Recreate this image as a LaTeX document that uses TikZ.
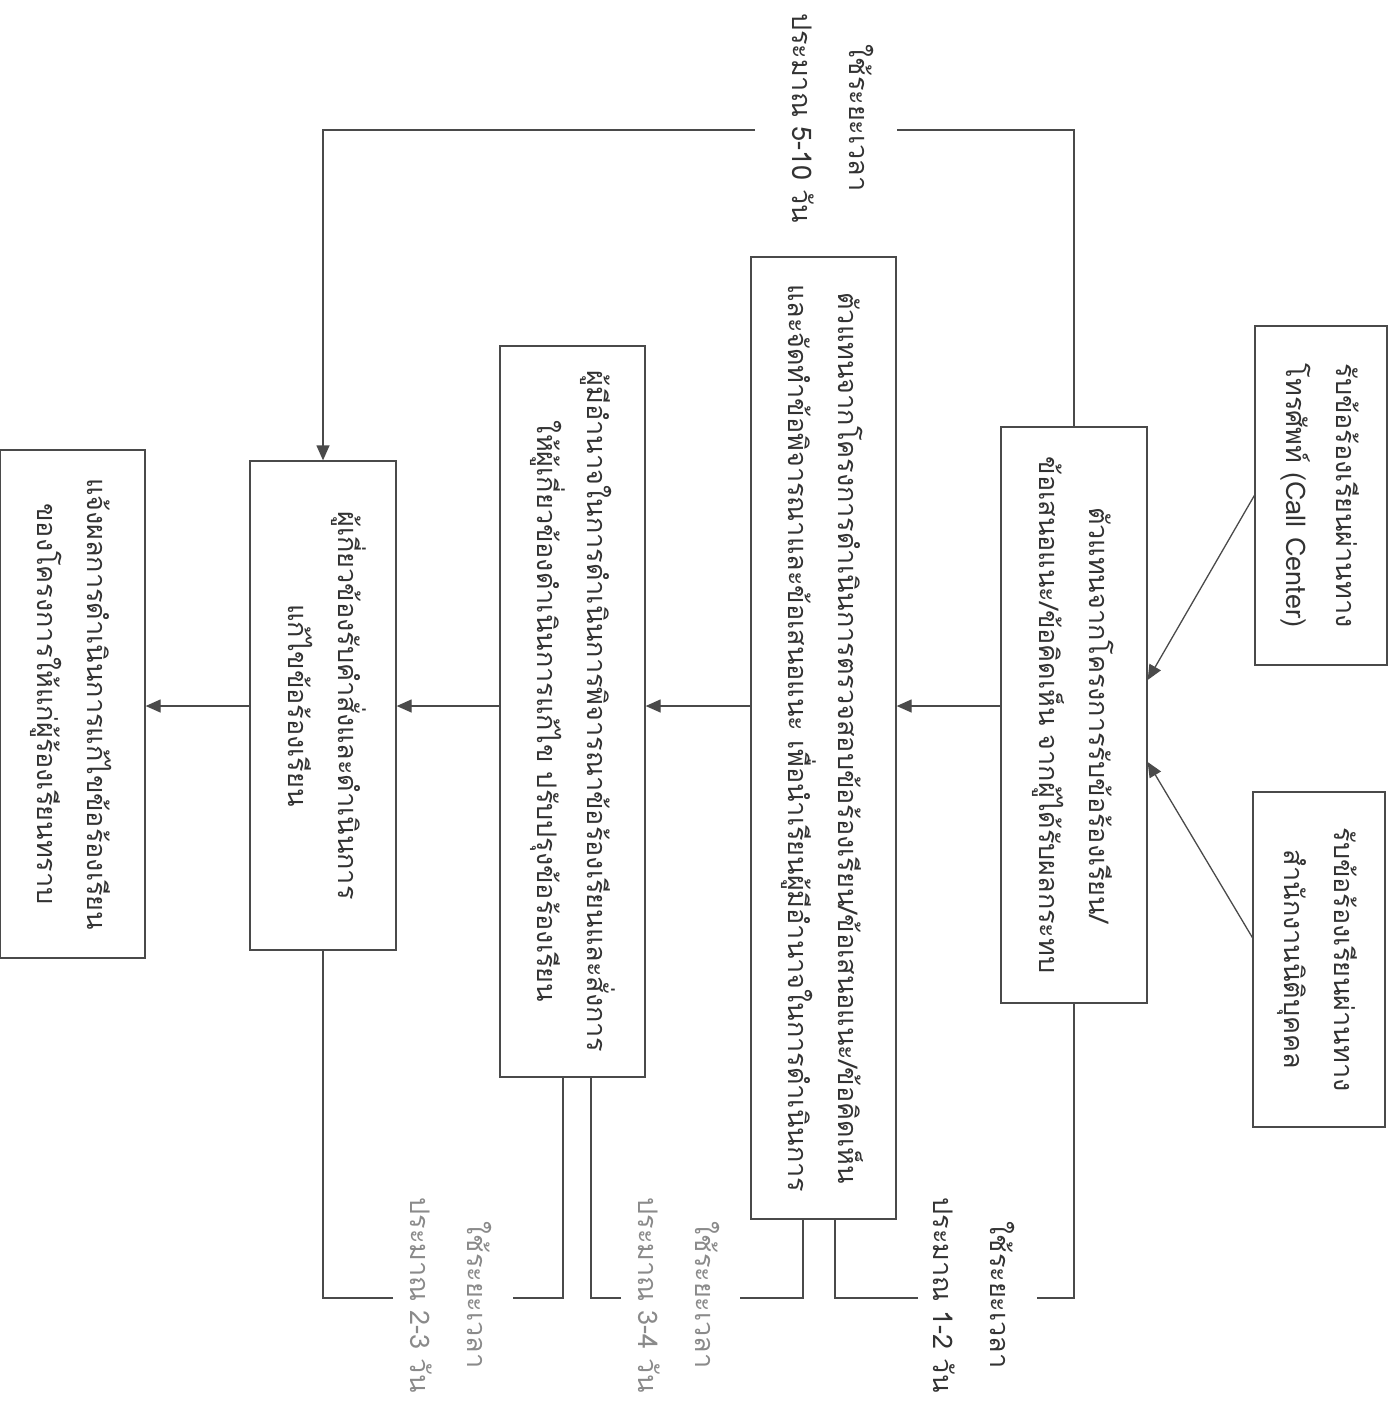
\documentclass[tikz,border=0pt]{standalone}
\usepackage{fontspec}
\newfontfamily\thaifont[Script=Thai]{Loma}
\usetikzlibrary{arrows.meta,calc}
\definecolor{linec}{HTML}{4A4A4A}
\definecolor{textc}{HTML}{333333}
\definecolor{lightc}{HTML}{8A8A8A}
\newcommand{\vtext}[2]{\rotatebox{-90}{\begin{tabular}{@{}c@{}}#1\\#2\end{tabular}}}
\begin{document}
\begin{tikzpicture}[x=1pt,y=-1pt,
  box/.style={draw=linec, line width=1.3pt, inner sep=0pt, text=textc,
    font=\thaifont\fontsize{27}{50}\selectfont},
  lbl/.style={inner sep=0pt, text=textc, font=\thaifont\fontsize{27}{57}\selectfont},
  conn/.style={draw=linec, line width=1.3pt},
  arr/.style={conn, -{Triangle[length=15pt,width=13pt]}}]
\useasboundingbox (0,0) rectangle (1396,1411);
% boxes
\node[box, minimum width=132pt, minimum height=339pt] (A) at (1321,495.5)
  {\vtext{รับข้อร้องเรียนผ่านทาง}{โทรศัพท์ (Call Center)}};
\node[box, minimum width=132pt, minimum height=335pt] (B) at (1319,959.5)
  {\vtext{รับข้อร้องเรียนผ่านทาง}{สำนักงานนิติบุคคล}};
\node[box, minimum width=146pt, minimum height=576pt] (C) at (1074,715)
  {\vtext{ตัวแทนจากโครงการรับข้อร้องเรียน/}{ข้อเสนอแนะ/ข้อคิดเห็น จากผู้ได้รับผลกระทบ}};
\node[box, minimum width=145pt, minimum height=962pt] (D) at (823.5,738)
  {\vtext{ตัวแทนจากโครงการดำเนินการตรวจสอบข้อร้องเรียน/ข้อเสนอแนะ/ข้อคิดเห็น}{และจัดทำข้อพิจารณาและข้อเสนอแนะ เพื่อนำเรียนผู้มีอำนาจในการดำเนินการ}};
\node[box, minimum width=145pt, minimum height=731pt] (E) at (572.5,711.5)
  {\vtext{ผู้มีอำนาจในการดำเนินการพิจารณาข้อร้องเรียนและสั่งการ}{ให้ผู้เกี่ยวข้องดำเนินการแก้ไข ปรับปรุงข้อร้องเรียน}};
\node[box, minimum width=146pt, minimum height=489pt] (F) at (323,705.5)
  {\vtext{ผู้เกี่ยวข้องรับคำสั่งและดำเนินการ}{แก้ไขข้อร้องเรียน}};
\node[box, minimum width=145pt, minimum height=508pt] (G) at (72.5,704)
  {\vtext{แจ้งผลการดำเนินการแก้ไขข้อร้องเรียน}{ของโครงการให้แก่ผู้ร้องเรียนทราบ}};
% labels
\node[lbl] (T) at (832,118) {\vtext{ใช้ระยะเวลา}{ประมาณ 5-10 วัน}};
\node[lbl] (L1) at (973,1295) {\vtext{ใช้ระยะเวลา}{ประมาณ 1-2 วัน}};
\node[lbl, text=lightc] (L2) at (678,1295) {\vtext{ใช้ระยะเวลา}{ประมาณ 3-4 วัน}};
\node[lbl, text=lightc] (L3) at (450,1295) {\vtext{ใช้ระยะเวลา}{ประมาณ 2-3 วัน}};
% helper coordinates
\coordinate (flow) at (0,706);
\coordinate (tA) at ($(C.east)+(0,-35)$);
\coordinate (tB) at ($(C.east)+(0,47)$);
\coordinate (t1) at (897,130);
\coordinate (t2) at (755,130);
\coordinate (b1) at (1037,1298);
\coordinate (b2) at (918,1298);
\coordinate (b3) at (740,1298);
\coordinate (b4) at (621,1298);
\coordinate (b5) at (513,1298);
\coordinate (b6) at (393,1298);
% inputs
\draw[arr] (A.west) -- (tA);
\draw[arr] ($(B.west)+(0,-22)$) -- (tB);
% main flow
\draw[arr] (C.west |- flow) -- (D.east |- flow);
\draw[arr] (D.west |- flow) -- (E.east |- flow);
\draw[arr] (E.west |- flow) -- (F.east |- flow);
\draw[arr] (F.west |- flow) -- (G.east |- flow);
% top bracket
\draw[conn] (C.north) |- (t1);
\draw[arr] (t2) -| (F.north);
% bottom brackets
\draw[conn] (C.south) |- (b1);
\draw[conn] (b2) -| ($(D.south)+(11.5,0)$);
\draw[conn] ($(D.south)+(-20.5,0)$) |- (b3);
\draw[conn] (b4) -| ($(E.south)+(18.5,0)$);
\draw[conn] ($(E.south)+(-9.5,0)$) |- (b5);
\draw[conn] (b6) -| (F.south);
\end{tikzpicture}
\end{document}
